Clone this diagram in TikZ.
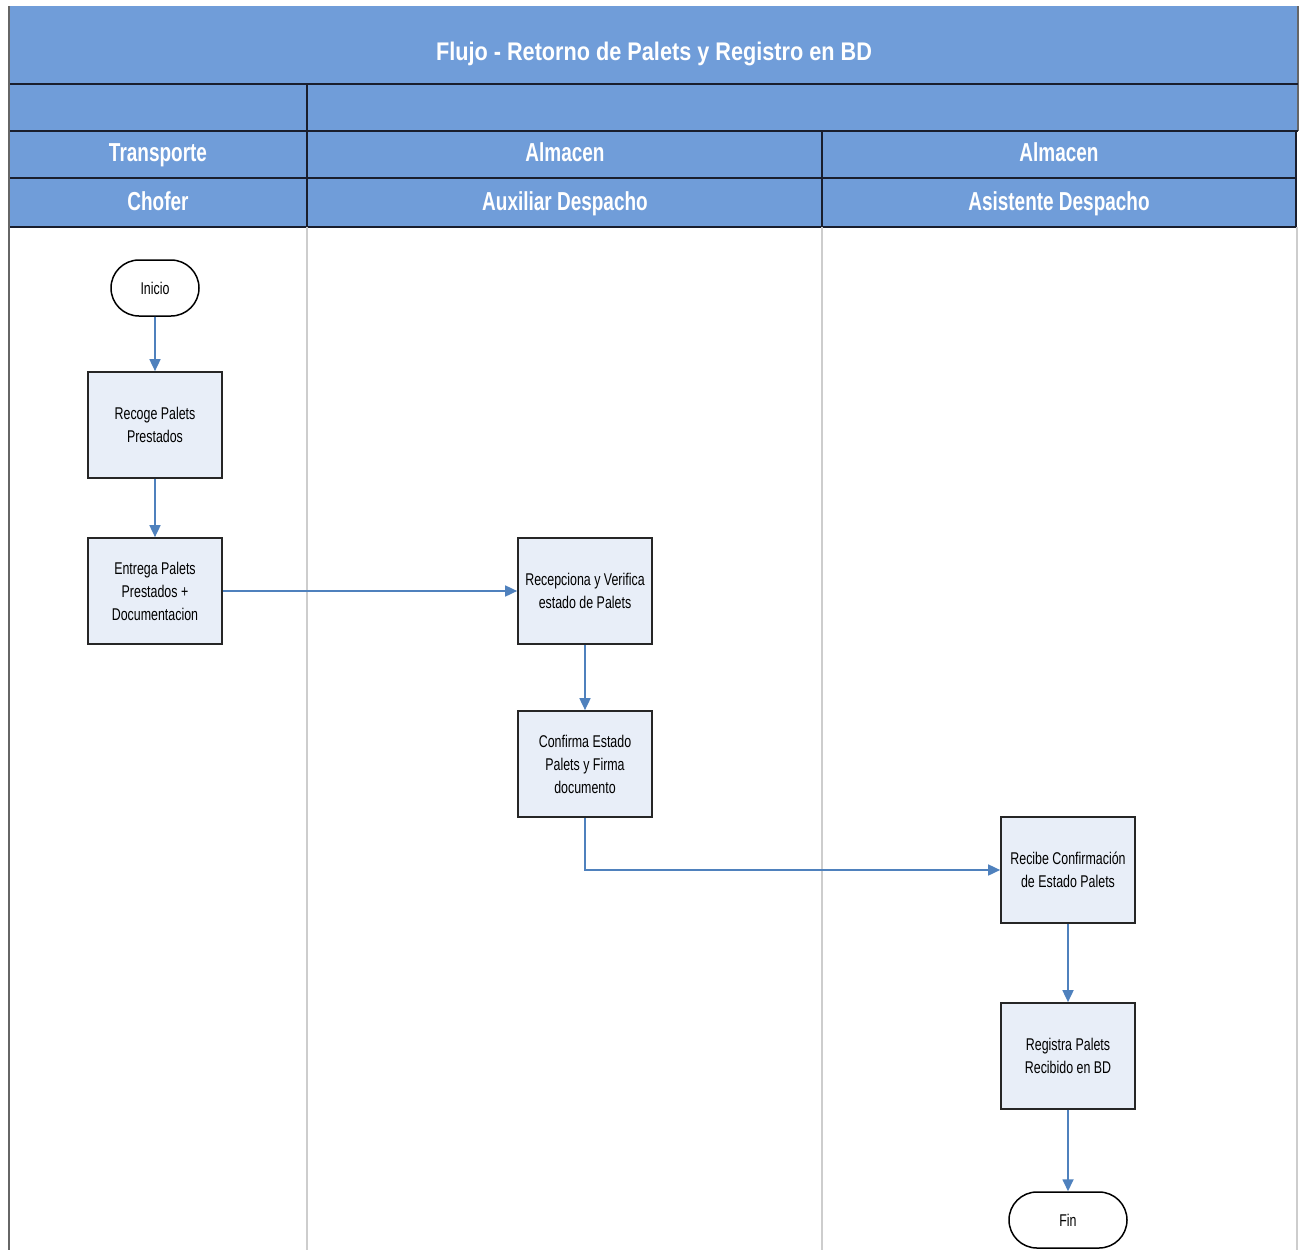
\documentclass[tikz,border=0pt]{standalone}
\usepackage{fontspec}
\setmainfont{Liberation Sans}
\newfontfamily\narrowfont[FakeStretch=0.73]{Liberation Sans}
\newfontfamily\titlefont[FakeStretch=0.85]{Liberation Sans}
\usetikzlibrary{shapes.misc,arrows.meta,shadows}
\definecolor{hdr}{RGB}{112,157,217}
\definecolor{boxfill}{RGB}{232,238,248}
\definecolor{arrowblue}{RGB}{79,129,189}
\definecolor{lanegray}{RGB}{205,205,205}
\definecolor{hdrline}{RGB}{25,30,45}
\tikzset{
  hdrtext/.style={text=white,text height=19pt,text depth=5pt,
    font=\narrowfont\bfseries\fontsize{26}{30}\selectfont},
  titletext/.style={text=white,font=\titlefont\bfseries\fontsize{25.5}{29}\selectfont},
  procbox/.style={rectangle,draw=black!85,line width=1.7pt,fill=boxfill,
    minimum width=134pt,minimum height=106pt,align=center,inner sep=2pt,
    drop shadow={shadow xshift=1.4pt,shadow yshift=-1.4pt,fill=black!55,opacity=1},
    font=\narrowfont\fontsize{17}{23}\selectfont},
  termbox/.style={rounded rectangle,draw=black,line width=1.5pt,fill=white,
    minimum height=56pt,inner xsep=4pt,
    font=\narrowfont\fontsize{17}{20}\selectfont},
  flow/.style={draw=arrowblue,line width=1.7pt,-{Triangle[length=12pt,width=11pt]}},
  hline/.style={draw=hdrline,line width=2pt},
  laneline/.style={draw=lanegray,line width=2pt}
}
\begin{document}
\begin{tikzpicture}[x=1pt,y=-1pt]
\useasboundingbox (0,0) rectangle (1304,1250);
% header bands
\fill[hdr] (9,6) rectangle (1298,131);
\fill[hdr] (9,131) rectangle (1296,227);
\draw[draw=black!60,line width=1.2pt] (1298,6) -- (1298,131);
\draw[hline] (9,84) -- (1298,84);
\draw[hline] (9,131) -- (1298,131);
\draw[hline] (9,178) -- (1296,178);
\draw[hline] (9,227) -- (1296,227);
\draw[hline] (307,84) -- (307,227);
\draw[hline] (822,131) -- (822,227);
\draw[hline] (1296,131) -- (1296,227);
% lanes
\draw[laneline] (307,227) -- (307,1250);
\draw[laneline] (822,227) -- (822,1250);
\draw[laneline] (1297,227) -- (1297,1250);
\draw[draw=black!60,line width=2.5pt] (9,6) -- (9,1250);
% header texts
\node[titletext] (title) at (654,54) {Flujo - Retorno de Palets y Registro en BD};
\node[hdrtext] (h1) at (158,154) {Transporte};
\node[hdrtext] (h2) at (565,154) {Almacen};
\node[hdrtext] (h3) at (1059,154) {Almacen};
\node[hdrtext] (h4) at (158,203) {Chofer};
\node[hdrtext] (h5) at (565,203) {Auxiliar Despacho};
\node[hdrtext] (h6) at (1059,203) {Asistente Despacho};
% nodes
\node[termbox,minimum width=96pt] (ini) at (155,288) {Inicio};
\node[procbox] (rec) at (155,425) {Recoge Palets\\Prestados};
\node[procbox] (ent) at (155,591) {Entrega Palets\\Prestados +\\Documentacion};
\node[procbox] (recp) at (585,591) {Recepciona y Verifica\\estado de Palets};
\node[procbox] (conf) at (585,764) {Confirma Estado\\Palets y Firma\\documento};
\node[procbox] (recb) at (1068,870) {Recibe Confirmación\\de Estado Palets};
\node[procbox] (reg) at (1068,1056) {Registra Palets\\Recibido en BD};
\node[termbox,minimum width=126pt] (fin) at (1068,1220) {Fin};
% connectors
\draw[flow] (ini) -- (rec);
\draw[flow] (rec) -- (ent);
\draw[flow] (ent) -- (recp);
\draw[flow] (recp) -- (conf);
\draw[flow] (conf.south) |- (recb.west);
\draw[flow] (recb) -- (reg);
\draw[flow] (reg) -- (fin);
\end{tikzpicture}
\end{document}
